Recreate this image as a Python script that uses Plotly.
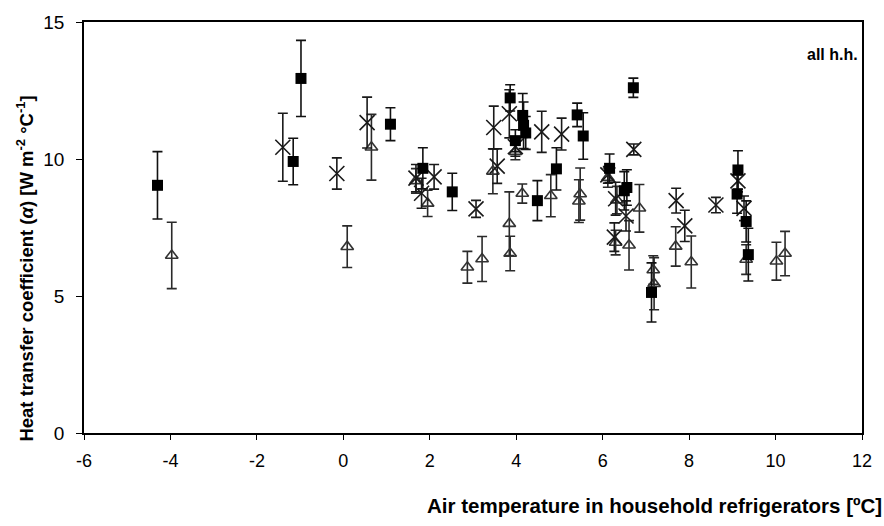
import plotly.graph_objects as go

# Filled squares
sq_x = [-4.30, -1.16, -0.98, 1.09, 1.84, 2.52, 3.86, 3.98, 4.15, 4.17, 4.22, 4.49,
        4.93, 5.41, 5.55, 6.16, 6.50, 6.56, 6.71, 7.13, 9.13, 9.11, 9.32, 9.37]
sq_y = [9.04, 9.91, 12.94, 11.27, 9.66, 8.80, 12.23, 10.67, 11.59, 11.23, 10.95, 8.48,
        9.64, 11.61, 10.84, 9.66, 8.84, 8.96, 12.60, 5.13, 9.60, 8.72, 7.72, 6.51]
sq_e = [1.23, 0.85, 1.39, 0.60, 0.75, 0.68, 0.48, 0.40, 0.80, 0.85, 0.60, 0.73,
        0.77, 0.43, 0.85, 0.52, 0.70, 0.65, 0.35, 1.08, 0.70, 0.70, 0.75, 0.96]

# Crosses
cx_x = [-1.40, -0.15, 0.55, 1.68, 1.81, 2.10, 3.07, 3.48, 3.56, 3.84, 3.98, 4.59,
        5.05, 6.12, 6.30, 6.54, 6.27, 6.72, 7.70, 7.90, 8.62, 9.13, 9.27]
cx_y = [10.43, 9.47, 11.33, 9.30, 8.75, 9.35, 8.18, 11.15, 9.74, 11.65, 10.45, 10.99,
        10.91, 9.42, 8.55, 7.92, 7.15, 10.35, 8.48, 7.56, 8.32, 9.20, 8.20]
cx_e = [1.24, 0.57, 0.93, 0.50, 0.55, 0.45, 0.31, 0.78, 0.63, 0.88, 0.35, 0.75,
        0.58, 0.30, 0.60, 0.55, 0.52, 0.20, 0.45, 0.57, 0.28, 0.40, 0.45]

# Open triangles
tr_x = [-3.97, 0.09, 0.65, 1.68, 1.95, 2.87, 3.21, 3.46, 3.84, 3.86, 3.98, 4.14,
        4.80, 5.48, 5.45, 6.12, 6.30, 6.33, 6.61, 6.85, 7.17, 7.19, 7.69, 8.05,
        9.32, 10.02, 10.22]
tr_y = [6.48, 6.80, 10.43, 9.20, 8.38, 6.05, 6.35, 9.55, 7.64, 6.55, 10.27, 8.74,
        8.66, 8.72, 8.46, 9.32, 6.95, 8.50, 6.85, 8.20, 5.95, 5.45, 6.81, 6.24,
        6.33, 6.27, 6.55]
tr_e = [1.21, 0.76, 1.20, 0.45, 0.48, 0.58, 0.82, 0.82, 1.16, 0.63, 0.30, 0.35,
        0.77, 0.95, 0.78, 0.35, 0.45, 0.50, 0.90, 0.87, 0.52, 0.95, 0.72, 0.95,
        0.54, 0.69, 0.81]

x_ticks = [-6, -4, -2, 0, 2, 4, 6, 8, 10, 12]
y_ticks = [0, 5, 10, 15]

FONT = "Liberation Sans, Arial, sans-serif"

def err(e, color):
    return dict(type="data", array=e, visible=True, color=color, thickness=1.6, width=5)

fig = go.Figure()
fig.add_trace(go.Scatter(
    x=tr_x, y=tr_y, mode="markers", error_y=err(tr_e, "#2a2a2a"),
    marker=dict(symbol="triangle-up-open", size=11, color="#333333",
                line=dict(width=1.6, color="#333333")),
    showlegend=False))
fig.add_trace(go.Scatter(
    x=cx_x, y=cx_y, mode="markers", error_y=err(cx_e, "#1a1a1a"),
    marker=dict(symbol="x-thin-open", size=15, color="#1a1a1a",
                line=dict(width=1.6, color="#1a1a1a")),
    showlegend=False))
fig.add_trace(go.Scatter(
    x=sq_x, y=sq_y, mode="markers", error_y=err(sq_e, "#111111"),
    marker=dict(symbol="square", size=11, color="#000000",
                line=dict(width=0)),
    showlegend=False))

fig.update_layout(
    width=884, height=526,
    margin=dict(l=84, r=15, t=15, b=93),
    paper_bgcolor="white", plot_bgcolor="white",
    font=dict(family=FONT, color="#000000"),
    xaxis=dict(range=[-6, 12], tickvals=x_ticks, ticktext=[str(v) for v in x_ticks],
               showgrid=False, zeroline=False, showline=True, linecolor="#000",
               linewidth=1.5, mirror=True, ticks="outside", ticklen=5, tickwidth=1.2,
               tickcolor="#000", tickfont=dict(size=18, family=FONT),
               ticklabelstandoff=6),
    yaxis=dict(range=[0, 15], tickvals=y_ticks, ticktext=[str(v) for v in y_ticks],
               showgrid=False, zeroline=False, showline=True, linecolor="#000",
               linewidth=1.5, mirror=True, ticks="outside", ticklen=6, tickwidth=1.2,
               tickcolor="#000", tickfont=dict(size=19, family=FONT),
               ticklabelstandoff=8),
    annotations=[
        dict(text="<b>all h.h.</b>", xref="paper", yref="paper", x=0.997, y=0.921,
             xanchor="right", yanchor="middle", showarrow=False,
             font=dict(size=16, family=FONT)),
        dict(text="<b>Air temperature in household refrigerators [ºC]</b>",
             xref="paper", yref="paper", x=1, y=0, xanchor="right", yanchor="middle",
             xshift=22, yshift=-72, showarrow=False, font=dict(size=20.5, family=FONT)),
        dict(text="<b>Heat transfer coefficient (<i>α</i>) [W m<sup>-2</sup> °C<sup>-1</sup>]</b>",
             xref="paper", yref="paper", x=0, y=0.40, xanchor="center", yanchor="middle",
             xshift=-59, textangle=-90, showarrow=False, font=dict(size=18.5, family=FONT)),
    ],
)

fig.write_html("out.html")
